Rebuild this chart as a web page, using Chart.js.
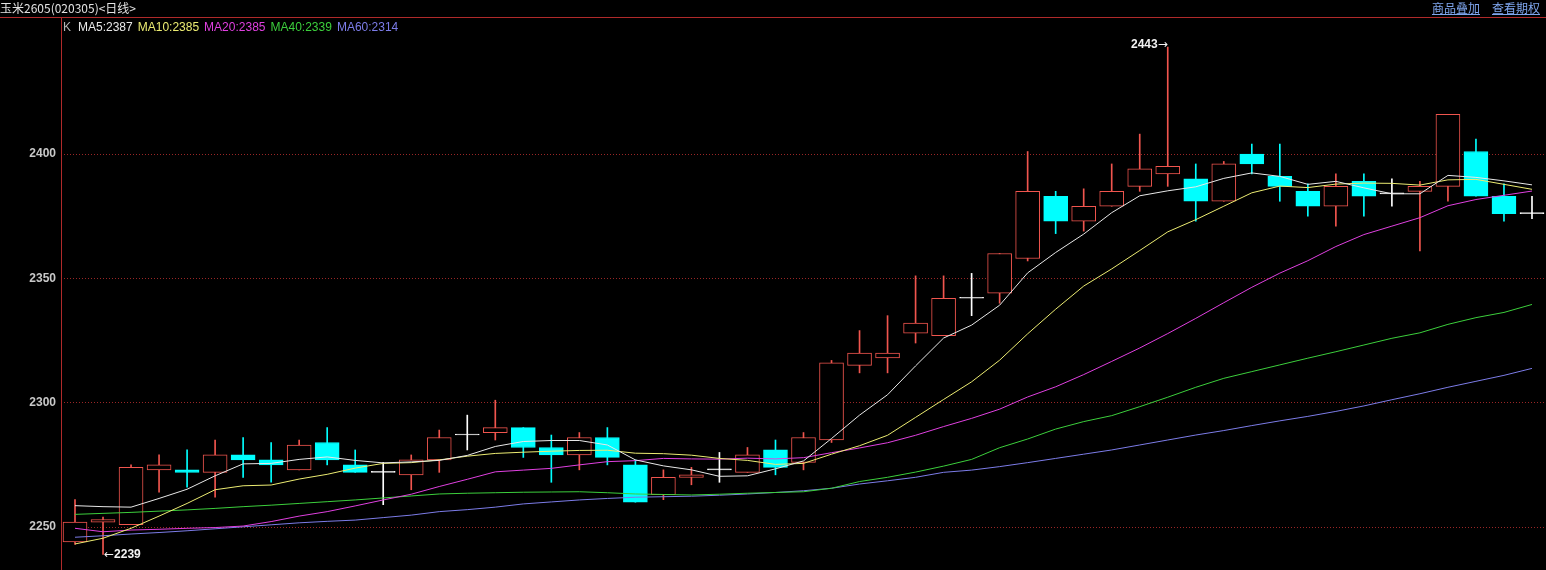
<!DOCTYPE html>
<html>
<head>
<meta charset="utf-8">
<script src="https://cdn.jsdelivr.net/npm/chart.js@4.4.1/dist/chart.umd.min.js"></script>
<style>
html, body { margin: 0; padding: 0; background: #000; overflow: hidden; }
#wrap { position: relative; width: 1546px; height: 570px; }
#kchart { position: absolute; left: 0; top: 0; }
#title { position: absolute; left: 0; top: 0; font: 12px "Noto Sans CJK SC", sans-serif; color: #e2e2e2; line-height: 16px; white-space: nowrap; }
#links { position: absolute; right: 6px; top: 0; font: 12px "Noto Sans CJK SC", sans-serif; line-height: 16px; }
#links a { color: #7fa6ee; text-decoration: underline; margin-left: 12px; }
#legend { position: absolute; left: 63px; top: 19px; font: 12px "Liberation Sans", Arial, sans-serif; line-height: 16px; white-space: nowrap; }
#legend span { margin-right: 5px; }
.hline { position: absolute; left: 0; top: 17px; width: 1546px; height: 1px; background: #b02a2a; }
.vline { position: absolute; left: 61px; top: 17px; width: 1px; height: 553px; background: #b02a2a; }
</style>
</head>
<body>
<div id="wrap">
  <canvas id="kchart" width="1546" height="570"></canvas>
  <div class="hline"></div>
  <div class="vline"></div>
  <div id="title">玉米2605(020305)&lt;日线&gt;</div>
  <div id="links"><a>商品叠加</a><a>查看期权</a></div>
  <div id="legend"></div>
</div>
<script>
// daily candles
var opens  = [2244,2252,2251,2273,2273,2272,2279,2277,2273,2284,2275,2272,2271,2277,2287,2288,2290,2282,2279,2286,
              2275,2263,2270,2273,2272,2281,2276,2285,2315,2318,2328,2327,2342,2344,2358,2383,2373,2379,2387,2392,
              2390,2381,2400,2391,2385,2379,2389,2384,2385,2387,2401,2383,2376];
var highs  = [2261,2254,2275,2279,2281,2285,2286,2284,2285,2290,2281,2276,2279,2289,2295,2301,2290,2287,2288,2290,
              2277,2273,2274,2280,2282,2285,2288,2317,2329,2335,2351,2351,2352,2360,2401,2385,2386,2396,2408,2443,
              2396,2397,2404,2404,2388,2392,2392,2390,2389,2416,2406,2388,2383];
var lows   = [2243,2239,2251,2264,2266,2262,2270,2268,2273,2275,2272,2259,2265,2272,2281,2285,2278,2268,2273,2275,
              2260,2261,2267,2268,2272,2271,2273,2284,2312,2312,2324,2327,2335,2340,2357,2368,2369,2379,2385,2387,
              2373,2381,2392,2381,2375,2371,2375,2379,2361,2381,2383,2373,2374];
var closes = [2252,2253,2274,2275,2272,2279,2277,2275,2283,2277,2272,2272,2277,2286,2287,2290,2282,2279,2286,2278,
              2260,2270,2271,2273,2279,2274,2286,2316,2320,2320,2332,2342,2342,2360,2385,2373,2379,2385,2394,2395,
              2381,2396,2396,2387,2379,2387,2383,2384,2387,2416,2383,2376,2376];

// moving average lines
var ma5  = [2258.6,2258.2,2258.0,2261.5,2265.2,2270.6,2275.4,2275.6,2277.2,2278.2,2276.8,2275.8,2276.2,2276.8,2278.8,
            2282.4,2284.4,2284.8,2284.8,2283.0,2277.0,2274.6,2273.0,2270.4,2270.6,2273.4,2276.6,2285.6,2295.0,2303.2,
            2314.8,2326.0,2331.2,2339.2,2352.2,2360.4,2367.8,2376.4,2383.2,2385.2,2386.8,2390.2,2392.4,2391.0,2387.8,
            2389.0,2386.4,2384.0,2384.0,2391.4,2390.6,2389.2,2387.6];
var ma10 = [2243.2,2245.5,2249.5,2254.4,2259.5,2265.0,2266.6,2266.9,2269.3,2271.2,2273.7,2275.6,2275.9,2277.0,2278.5,
            2279.6,2280.1,2280.5,2280.8,2280.9,2279.7,2279.5,2278.9,2277.6,2276.8,2275.2,2275.6,2279.3,2282.7,2286.9,
            2294.1,2301.3,2308.4,2317.1,2327.7,2337.6,2346.9,2353.8,2361.2,2368.7,2373.6,2379.0,2384.4,2387.1,2386.5,
            2387.9,2388.3,2388.2,2387.5,2389.6,2389.8,2387.8,2385.8];
var ma20 = [2249.5,2248.1,2248.8,2249.1,2249.5,2249.8,2250.4,2252.2,2254.4,2256.2,2258.5,2260.9,2263.2,2266.3,2269.2,
            2272.2,2272.9,2273.6,2275.0,2276.3,2276.7,2277.6,2277.4,2277.3,2277.7,2277.4,2277.9,2279.9,2281.8,2283.9,
            2286.9,2290.4,2293.7,2297.4,2302.3,2306.4,2311.3,2316.6,2322.0,2327.8,2333.9,2340.2,2346.4,2352.1,2357.1,
            2362.8,2367.6,2371.0,2374.4,2379.2,2381.7,2383.4,2385.1];
var ma40 = [2255.1,2255.5,2255.9,2256.4,2256.9,2257.5,2258.2,2258.8,2259.5,2260.2,2260.9,2261.7,2262.5,2263.3,2263.6,
            2263.8,2264.0,2264.1,2264.2,2263.8,2263.3,2263.1,2262.9,2263.2,2263.6,2263.9,2264.2,2265.6,2268.3,2270.0,
            2272.1,2274.5,2277.2,2281.9,2285.4,2289.4,2292.4,2294.8,2298.4,2302.2,2306.2,2309.8,2312.5,2315.2,2317.9,
            2320.5,2323.2,2325.9,2328.1,2331.5,2334.2,2336.3,2339.5];
var ma60 = [2245.9,2246.5,2247.2,2247.8,2248.5,2249.3,2250.1,2250.9,2251.7,2252.3,2252.8,2253.8,2254.8,2256.2,2257.0,
            2258.0,2259.3,2260.1,2260.9,2261.5,2262.0,2262.2,2262.4,2262.8,2263.3,2263.9,2264.6,2265.6,2267.3,2268.6,
            2270.0,2272.0,2272.9,2274.3,2275.9,2277.6,2279.3,2281.0,2283.0,2285.0,2287.0,2288.8,2290.8,2292.7,2294.5,
            2296.5,2298.7,2301.2,2303.6,2306.2,2308.6,2311.0,2313.8];

var maNames   = ["MA5", "MA10", "MA20", "MA40", "MA60"];
var maLegend  = [2387, 2385, 2385, 2339, 2314];
var maColors  = ["#e8e8e8", "#ecec72", "#e040e0", "#3ccf3c", "#7c7ce8"];
var yTicks    = [2250, 2300, 2350, 2400];

var UP = "#f0554e", DOWN = "#00ffff", FLAT = "#ffffff";

function candleColor(i) {
    if (closes[i] > opens[i]) return UP;
    if (closes[i] < opens[i]) return DOWN;
    return FLAT;
}

// legend row
var legendHtml = '<span style="color:#b4b4b4;margin-right:7px">K</span>';
for (var m = 0; m < maNames.length; m++) {
    legendHtml += '<span style="color:' + maColors[m] + '">' + maNames[m] + ':' + maLegend[m] + '</span>';
}
document.getElementById("legend").innerHTML = legendHtml;

// y labels + high / low markers (drawn here so the plot area keeps no label padding)
var markPlugin = {
    id: "marks",
    afterDraw: function(chart) {
        var ctx = chart.ctx, xs = chart.scales.x, ys = chart.scales.y;
        var numFont = 'bold 12px "Liberation Sans", Arial, sans-serif';
        var arrowFont = '12px "DejaVu Sans", sans-serif';
        ctx.save();
        ctx.font = numFont;
        ctx.textBaseline = "middle";
        ctx.textAlign = "right";
        ctx.fillStyle = "#c8c8c8";
        yTicks.forEach(function(v) {
            ctx.fillText(String(v), 56, ys.getPixelForValue(v));
        });

        var hi = 0, lo = 0;
        for (var i = 0; i < highs.length; i++) {
            if (highs[i] > highs[hi]) hi = i;
            if (lows[i] < lows[lo]) lo = i;
        }
        ctx.fillStyle = "#f2f2f2";
        // highest: "2443→" ending at the wick
        var hx = xs.getPixelForValue(hi), hy = ys.getPixelForValue(highs[hi]) - 2;
        ctx.font = arrowFont;
        var aw = ctx.measureText("\u2192").width;
        ctx.textAlign = "right";
        ctx.fillText("\u2192", hx, hy);
        ctx.font = numFont;
        ctx.fillText(String(highs[hi]), hx - aw, hy);
        // lowest: "←2239" starting at the wick
        var lx = xs.getPixelForValue(lo) + 1, ly = ys.getPixelForValue(lows[lo]);
        ctx.textAlign = "left";
        ctx.font = arrowFont;
        ctx.fillText("\u2190", lx, ly);
        aw = ctx.measureText("\u2190").width;
        ctx.font = numFont;
        ctx.fillText(String(lows[lo]), lx + aw, ly);
        ctx.restore();
    }
};

var datasets = [];
for (var k = 0; k < maNames.length; k++) {
    datasets.push({
        type: "line",
        label: maNames[k],
        data: [ma5, ma10, ma20, ma40, ma60][k],
        borderColor: maColors[k],
        borderWidth: 1,
        pointRadius: 0,
        tension: 0,
        order: k
    });
}
datasets.push({
    type: "bar",
    label: "body",
    data: opens.map(function(o, i) { return [o, closes[i]]; }),
    backgroundColor: function(c) { return closes[c.dataIndex] > opens[c.dataIndex] ? "#000" : candleColor(c.dataIndex); },
    borderColor: function(c) { return candleColor(c.dataIndex); },
    borderWidth: 1,
    borderSkipped: false,
    barThickness: 24,
    minBarLength: 1,
    grouped: false,
    order: 10
});
datasets.push({
    type: "bar",
    label: "wick",
    data: lows.map(function(l, i) { return [l, highs[i]]; }),
    backgroundColor: function(c) { return candleColor(c.dataIndex); },
    barThickness: 1,
    grouped: false,
    order: 11
});

new Chart(document.getElementById("kchart"), {
    data: {
        labels: opens.map(function(_, i) { return String(i + 1); }),
        datasets: datasets
    },
    options: {
        responsive: false,
        animation: false,
        events: [],
        layout: { padding: { top: 36, right: 0, bottom: 0, left: 0 } },
        plugins: { legend: { display: false }, tooltip: { enabled: false } },
        scales: {
            x: { type: "category", display: false, offset: true, grid: { display: false } },
            y: {
                position: "left",
                min: 2232.73,
                max: 2447.45,
                afterBuildTicks: function(s) { s.ticks = yTicks.map(function(v) { return { value: v }; }); },
                afterFit: function(s) { s.width = 61; },
                grid: { color: "#9a2626", drawTicks: false, lineWidth: 1 },
                border: { display: false, dash: [1, 2] },
                ticks: { display: false }
            }
        }
    },
    plugins: [markPlugin]
});
</script>
</body>
</html>
